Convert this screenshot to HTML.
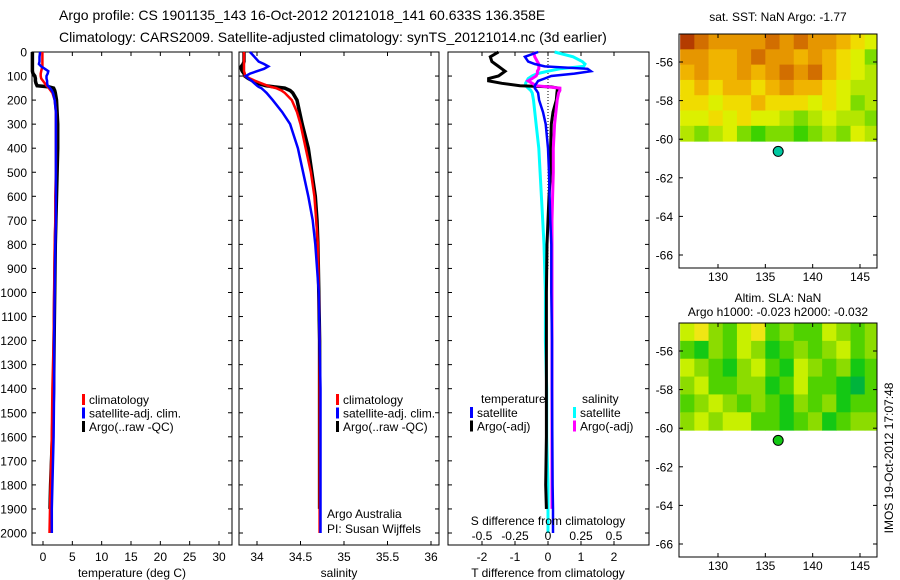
<!DOCTYPE html>
<html><head><meta charset="utf-8">
<style>
html,body{margin:0;padding:0;background:#fff;}
svg{display:block;font-family:"Liberation Sans",sans-serif;}
</style></head>
<body>
<svg id="chart" width="900" height="580" viewBox="0 0 900 580" xmlns="http://www.w3.org/2000/svg">
<text x="59" y="20" font-size="14">Argo profile: CS 1901135_143 16-Oct-2012 20121018_141 60.633S 136.358E</text>
<text x="59" y="42" font-size="14">Climatology: CARS2009. Satellite-adjusted climatology: synTS_20121014.nc (3d earlier)</text>
<g id="g"></g>
</svg>
<script>
// ---- depth levels (m) ----
const depths = [0,20,40,50,60,70,80,90,100,110,120,130,140,145,150,160,170,200,250,300,400,500,600,700,800,1000,1200,1400,1600,1800,1900,2000];
// temperature (deg C)
const tempClim = [-0.1,-0.1,-0.1,-0.1,-0.1,-0.2,-0.3,-0.4,-0.4,-0.3,0.0,0.3,0.6,0.8,1.0,1.3,1.6,2.0,2.2,2.2,2.2,2.2,2.1,2.1,2.0,1.9,1.8,1.6,1.5,1.3,1.2,1.1];
const tempSat  = [-0.5,-0.6,-0.6,-0.7,-0.3,0.3,0.9,0.8,0.6,0.6,0.7,0.7,0.8,1.0,1.2,1.5,1.7,2.0,2.2,2.2,2.2,2.2,2.2,2.2,2.1,2.0,1.9,1.9,1.8,1.6,1.5,1.5];
const tempArgo = [-1.8,-1.8,-1.8,-1.8,-1.8,-1.8,-1.8,-1.7,-1.4,-1.3,-1.3,-1.2,-1.0,1.0,1.8,2.0,2.1,2.3,2.4,2.5,2.5,2.4,2.3,2.2,2.1,2.0,1.9,1.8,1.6,1.3,1.2,null];
// salinity
const salClim = [33.85,33.85,33.85,33.85,33.85,33.85,33.85,33.86,33.86,33.92,33.98,34.05,34.12,34.16,34.22,34.28,34.32,34.40,34.46,34.50,34.56,34.62,34.66,34.68,34.70,34.71,34.72,34.72,34.72,34.72,34.72,34.72];
const salSat  = [33.92,33.97,34.02,34.08,34.13,34.08,34.00,33.92,33.87,33.90,33.94,33.97,34.00,34.02,34.05,34.08,34.11,34.18,34.29,34.38,34.47,34.53,34.59,34.64,34.67,34.71,34.72,34.73,34.73,34.73,34.73,34.73];
const salArgo = [33.85,33.85,33.85,33.84,33.82,33.82,33.83,33.85,33.86,33.90,33.95,34.00,34.10,34.20,34.32,34.38,34.41,34.46,34.49,34.52,34.59,34.63,34.67,34.69,34.70,34.71,34.72,34.72,34.72,34.72,34.72,null];
// differences
const dTsat  = [-0.3,-0.7,-0.6,-0.4,-0.1,1.2,1.3,0.8,0.1,-0.1,-0.3,-0.35,-0.4,-0.4,-0.4,-0.35,-0.3,-0.27,-0.15,-0.07,0.0,0.03,0.05,0.07,0.1,0.1,0.12,0.12,0.13,0.14,0.15,0.15];
const dTargo = [-1.5,-1.75,-1.7,-1.6,-1.5,-1.4,-1.3,-1.4,-1.5,-1.8,-1.8,-1.4,-0.85,0.1,0.3,0.28,0.27,0.25,0.15,0.1,0.08,0.08,0.03,0.0,-0.03,-0.05,-0.05,-0.05,-0.05,-0.07,-0.05,null];
const dSsat  = [0.05,0.19,0.26,0.28,0.27,0.09,0.0,-0.08,-0.12,-0.15,-0.16,-0.17,-0.17,-0.16,-0.15,-0.13,-0.12,-0.11,-0.1,-0.09,-0.07,-0.06,-0.05,-0.04,-0.03,-0.02,-0.02,-0.01,-0.01,0.0,0.0,0.0];
const dSargo = [-0.11,-0.1,-0.08,-0.07,-0.07,-0.07,-0.08,-0.08,-0.09,-0.12,-0.15,-0.12,-0.09,0.0,0.09,0.09,0.08,0.07,0.06,0.05,0.04,0.04,0.035,0.03,0.03,0.03,0.03,0.03,0.03,0.03,0.03,null];
const depthTicks = [0,100,200,300,400,500,600,700,800,900,1000,1100,1200,1300,1400,1500,1600,1700,1800,1900,2000];
const tempTicks = [0,5,10,15,20,25,30];
const salTicks = [34,34.5,35,35.5,36];
const dTTicks = [-2,-1,0,1,2];
const dSTicks = [-0.5,-0.25,0,0.25,0.5];
const lonTicks = [130,135,140,145];
const latTicks = [-56,-58,-60,-62,-64,-66];
// map grids (levels), rows north->south, cols west->east, covering lon 126..147, lat -54.55..-60.1
const sstGrid = ["98777787877654","77667877676542","67667678786543","56566567665433","55455655545423","44545443234332","32342122123243"];
const slaGrid = ["45324523224323","21324312323423","43213421432312","34223312422102","23432321323122","34344221231233"];
const argoLon = 136.358, argoLat = -60.633;

const NS="http://www.w3.org/2000/svg";
const G=document.getElementById('g');
function el(tag,attrs,parent){const e=document.createElementNS(NS,tag);for(const k in attrs)e.setAttribute(k,attrs[k]);(parent||G).appendChild(e);return e;}
function txt(x,y,s,size,anchor,parent){const t=el('text',{x:x,y:y,'font-size':size,'text-anchor':anchor||'start'},parent);t.textContent=s;return t;}

const TOP=52, BOT=545;
const yD = d => TOP + d*0.2405;
function lin(d0,p0,d1,p1){return v=>p0+(v-d0)*(p1-p0)/(d1-d0);}
const xT = lin(0,43,30,219);
const xS = lin(34,257,36,431);
const xdT = lin(0,548,2,614);
const xdS = lin(0,548,0.5,614);

function line(xf,vals,color,w,name,parent){
  let pts=[];
  depths.forEach((d,i)=>{if(vals[i]!==null)pts.push(xf(vals[i]).toFixed(1)+','+yD(d).toFixed(1));});
  const p=el('polyline',{points:pts.join(' '),fill:'none',stroke:color,'stroke-width':w,'stroke-linejoin':'miter'},parent);
  
  
}
function frame(x0,x1,name){
  const r=el('rect',{x:x0,y:TOP,width:x1-x0,height:BOT-TOP,fill:'none',stroke:'#000','stroke-width':1});
  
  
  depthTicks.forEach(d=>{
    el('line',{x1:x0,x2:x0+4,y1:yD(d),y2:yD(d),stroke:'#000'});
    el('line',{x1:x1,x2:x1-4,y1:yD(d),y2:yD(d),stroke:'#000'});
  });
}
function xticks(xf,ticks,x0,x1,labelY,fmt,name){
  const g=el('g',{});
  
  
  ticks.forEach(t=>{
    const x=xf(t);
    el('line',{x1:x,x2:x,y1:BOT,y2:BOT-4,stroke:'#000'},g);
    el('line',{x1:x,x2:x,y1:TOP,y2:TOP+4,stroke:'#000'},g);
    if(labelY)txt(x,labelY,fmt?fmt(t):String(t),12,'middle',g);
  });
}
function legend(x,y,items,name){
  const g=el('g',{});
  
  
  items.forEach((it,i)=>{
    el('rect',{x:x,y:y+i*13.5-10,width:3,height:11,fill:it[1]},g);
    txt(x+7,y+i*13.5,it[0],12,'start',g);
  });
}

// ---- panel 1 temperature ----
frame(32,232,'temperature-axes');
const yl=el('g',{});


depthTicks.forEach(d=>txt(27,yD(d)+4.5,String(d),12,'end',yl));
xticks(xT,tempTicks,32,232,561,null,'temperature-x-ticks');
line(xT,tempArgo,'#000',3.5,'temp-argo-line');
line(xT,tempClim,'#f00',2.5,'temp-climatology-line');
line(xT,tempSat,'#00f',2.5,'temp-satellite-line');
legend(82,404,[['climatology','#f00'],['satellite-adj. clim.','#00f'],['Argo(..raw -QC)','#000']],'temperature-legend');
txt(132,577,'temperature (deg C)',12,'middle');

// ---- panel 2 salinity ----
frame(239,439,'salinity-axes');
xticks(xS,salTicks,239,439,561,null,'salinity-x-ticks');
line(xS,salArgo,'#000',3.5,'sal-argo-line');
line(xS,salClim,'#f00',2.5,'sal-climatology-line');
line(xS,salSat,'#00f',2.5,'sal-satellite-line');
legend(336,404,[['climatology','#f00'],['satellite-adj. clim.','#00f'],['Argo(..raw -QC)','#000']],'salinity-legend');
txt(327,518,'Argo Australia',12);
txt(327,533,'PI: Susan Wijffels',12);
txt(339,577,'salinity',12,'middle');

// ---- panel 3 differences ----
frame(448,649,'difference-axes');
xticks(xdT,dTTicks,448,649,561,null,'t-diff-x-ticks');
el('line',{x1:548,x2:548,y1:TOP,y2:yD(900),stroke:'#000','stroke-dasharray':'1,2'});
line(xdS,dSsat,'#0ff',3,'s-diff-satellite-line');
line(xdT,dTargo,'#000',3,'t-diff-argo-line');
line(xdS,dSargo,'#f0f',3,'s-diff-argo-line');
line(xdT,dTsat,'#00f',2.5,'t-diff-satellite-line');
const sl=el('g',{});


dSTicks.forEach(t=>txt(xdS(t),540,String(t),12,'middle',sl));
txt(548,525,'S difference from climatology',12,'middle');
txt(548,577,'T difference from climatology',12,'middle');
txt(481,403,'temperature',12);
txt(582,403,'salinity',12);
legend(470,417,[['satellite','#00f'],['Argo(-adj)','#000']],'t-diff-legend');
legend(573,417,[['satellite','#0ff'],['Argo(-adj)','#f0f']],'s-diff-legend');

// ---- maps ----
const mx0=679, mx1=877;
const xLon = lin(130,718,145,860);
const sstCols=['#00c800','#3cd200','#7ddc00','#b4e600','#dcf000','#f0dc00','#f0b400','#e69600','#d26e00','#b43c00'];
const slaCols=['#00b43c','#14c814','#50d200','#8cdc00','#c8f000','#f0e614'];
function map(top,grid,cols,titleLines,titleYs,name,dotColor){
  const yLat = lin(-56,top+28,-66,top+221);
  const g=el('g',{});
  
  
  const latTop=-54.55, latBot=-60.1, lonL=126, lonR=147;
  const rows=grid.length, ncol=grid[0].length;
  for(let r=0;r<rows;r++)for(let c=0;c<ncol;c++){
    const la0=latTop+(latBot-latTop)*r/rows, la1=latTop+(latBot-latTop)*(r+1)/rows;
    const lo0=lonL+(lonR-lonL)*c/ncol, lo1=lonL+(lonR-lonL)*(c+1)/ncol;
    const x=Math.max(mx0,xLon(lo0)), x2=Math.min(mx1,xLon(lo1));
    el('rect',{x:x,y:yLat(la0),width:x2-x+0.5,height:yLat(la1)-yLat(la0)+0.5,fill:cols[+grid[r][c]]},g);
  }
  el('rect',{x:mx0,y:top,width:mx1-mx0,height:234,fill:'none',stroke:'#000'},g);
  latTicks.forEach(t=>{const y=yLat(t);el('line',{x1:mx0,x2:mx0+4,y1:y,y2:y,stroke:'#000'},g);el('line',{x1:mx1,x2:mx1-4,y1:y,y2:y,stroke:'#000'},g);txt(673,y+4.5,String(t),12,'end',g);});
  lonTicks.forEach(t=>{const x=xLon(t);el('line',{x1:x,x2:x,y1:top+234,y2:top+230,stroke:'#000'},g);el('line',{x1:x,x2:x,y1:top,y2:top+4,stroke:'#000'},g);txt(x,top+247,String(t),12,'middle',g);});
  const dot=el('circle',{cx:xLon(argoLon),cy:yLat(argoLat),r:5,fill:dotColor,stroke:'#000','stroke-width':1},g);
  
  
  titleLines.forEach((s,i)=>txt(778,titleYs[i],s,12,'middle',g));
}
map(34,sstGrid,sstCols,['sat. SST: NaN Argo: -1.77'],[21],'sst-map','#00c8a0');
map(323,slaGrid,slaCols,['Altim. SLA: NaN','Argo h1000: -0.023 h2000: -0.032'],[302,316],'sla-map','#14c814');
const im=txt(0,0,'IMOS 19-Oct-2012 17:07:48',12,'middle');
im.setAttribute('transform','translate(893,458) rotate(-90)');


</script>
</body></html>
